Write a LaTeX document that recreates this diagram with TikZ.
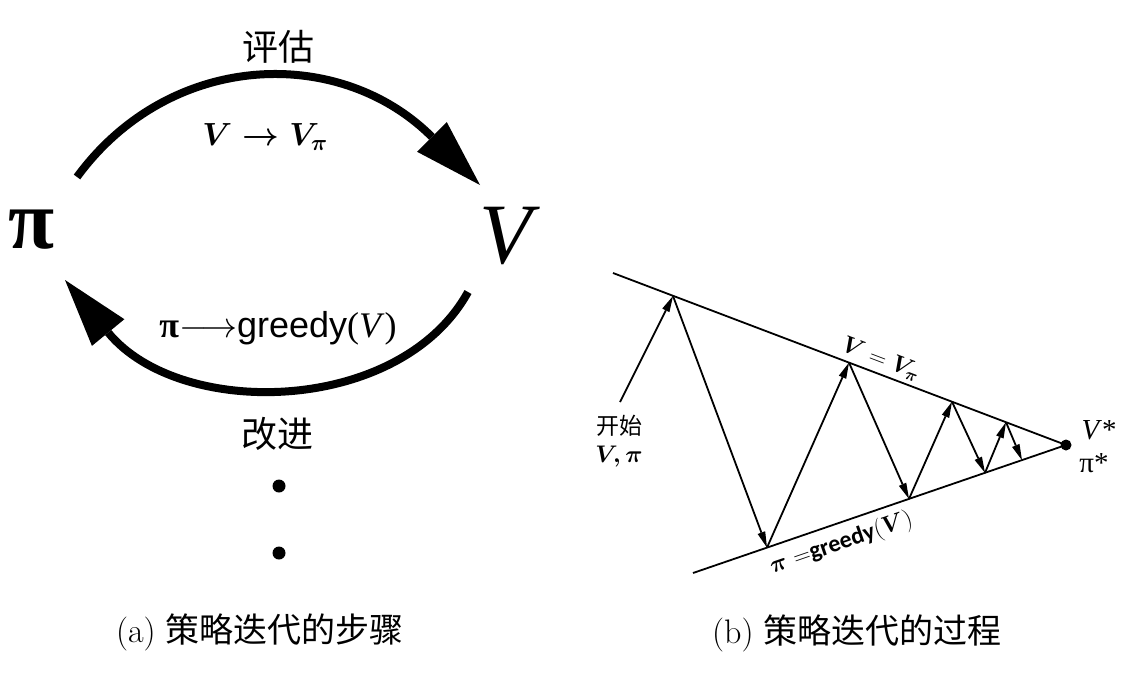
\RequirePackage{fix-cm}
\documentclass[tikz,border=0pt]{standalone}
\usepackage{amsmath}
\usepackage{fontspec}
\newfontfamily\cjk{Noto Sans CJK SC}
\newfontfamily\tnr{Liberation Serif}
\newfontfamily\helv{Liberation Sans}
\newfontfamily\calib{Carlito}
\usetikzlibrary{arrows.meta}
\newcommand{\fsize}[1]{\fontsize{#1pt}{#1pt}\selectfont}

\begin{document}
\begin{tikzpicture}[x=1pt, y=-1pt,
    bigarc/.style={line width=8pt, -{Triangle[length=68pt,width=42pt,line width=0pt]}},
    edge/.style={line width=1.8pt},
    zig/.style={line width=1.8pt, -{Triangle[length=16pt,width=8pt,line width=0pt]}},
    cjklabel/.style={font=\cjk\fsize{36}},
    caption/.style={font=\fsize{34}},
    dot/.style={circle, fill=black, inner sep=0pt, minimum size=13pt}
]
    \path[use as bounding box, fill=white] (0,0) rectangle (1148,672);

    % (a) steps
    \node (pisym) at (32,230) {\tnr\bfseries\fsize{84}π};
    \node (vsym) at (506,236) {\tnr\fsize{86}\itshape V};
    \node[cjklabel] (evaltext) at (278,47) {评估};
    \node[font=\fsize{32}] (evalform) at (265,137) {$\boldsymbol{V \rightarrow V_{\pi}}$};
    \node[font=\fsize{36}] (improvform) at (278,328) {{\tnr\bfseries π}$\longrightarrow${\helv greedy}{\tnr(\textit{V})}};
    \node[cjklabel] (improvtext) at (277,434) {改进};
    \node[dot] (dota) at (279,486) {};
    \node[dot] (dotb) at (279,553) {};
    \coordinate (evalfrom) at (77,177);
    \coordinate (evalto) at (480,185);
    \coordinate (improvfrom) at (468,292);
    \coordinate (improvto) at (65,280);
    \draw[bigarc] (evalfrom) .. controls (170,50) and (340,45) .. (evalto);
    \draw[bigarc] (improvfrom) .. controls (400,415) and (180,420) .. (improvto);
    \node[caption] (capa) at (260,632) {(a) {\cjk 策略迭代的步骤}};

    % (b) process
    \node[dot, minimum size=11pt] (vstar) at (1066,445) {};
    \coordinate (ltop) at (613,273);
    \coordinate (lbot) at (693,573);
    \draw[edge] (ltop) -- node[sloped, above, pos=0.58, font=\fsize{24}] (vvpi)
        {$\boldsymbol{V} = \boldsymbol{V_{\pi}}$} (vstar.center);
    \draw[edge] (lbot) -- node[sloped, below=4pt, pos=0.38, font=\fsize{24}] (pigreedy)
        {$\boldsymbol{\pi}$ $=${\calib\bfseries greedy}$(\boldsymbol{V})$} (vstar.center);
    \coordinate (startpt) at (620,402);
    \coordinate (t1) at (673,296);
    \coordinate (b1) at (767,547.6);
    \coordinate (t2) at (849,362.6);
    \coordinate (b2) at (909,498.9);
    \coordinate (t3) at (952,401.7);
    \coordinate (b3) at (985,472.8);
    \coordinate (t4) at (1006,422.2);
    \coordinate (b4) at (1022,460.2);
    \draw[zig] (startpt) -- (t1);
    \foreach \from/\to in {t1/b1, b1/t2, t2/b2, b2/t3, t3/b3, b3/t4, t4/b4}
        \draw[zig] (\from) -- (\to);
    \node[font=\cjk\fsize{23}] (starttext) at (619,426) {开始};
    \node[font=\fsize{24}] (startform) at (619,457) {$\boldsymbol{V,\pi}$};
    \node (vstarlbl) at (1099,430) {\tnr\fsize{29}\textit{V}*};
    \node (pistarlbl) at (1094,463) {\tnr\fsize{29}π*};
    \node[caption] (capb) at (857,633) {(b) {\cjk 策略迭代的过程}};
\end{tikzpicture}
\end{document}
